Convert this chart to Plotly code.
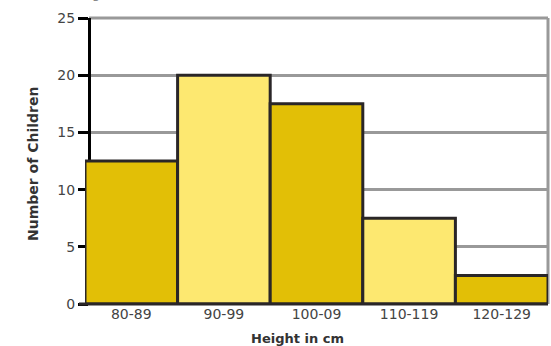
import plotly.graph_objects as go

categories = ["80-89", "90-99", "100-09", "110-119", "120-129"]
counts = [12.5, 20, 17.5, 7.5, 2.5]
bar_colors = ["#E2BF06", "#FDE870", "#E2BF06", "#FDE870", "#E2BF06"]
y_ticks = [0, 5, 10, 15, 20, 25]

fig = go.Figure()
fig.add_trace(go.Bar(
    x=list(range(len(categories))),
    y=counts,
    width=1.0,
    marker=dict(color=bar_colors, line=dict(color="#2A2627", width=3)),
    hoverinfo="skip",
))

W, H = 551, 346
ml, mr, mt, mb = 85, 3, 18, 42
plot_w = W - ml - mr
axis_pos = 4 / plot_w

fig.update_layout(
    width=W, height=H,
    margin=dict(l=ml, r=mr, t=mt, b=mb, autoexpand=False),
    paper_bgcolor="white", plot_bgcolor="white",
    showlegend=False,
    bargap=0,
    font=dict(family="DejaVu Sans", color="#333333"),
    xaxis=dict(
        range=[-0.5, 4.5],
        tickmode="array",
        tickvals=list(range(len(categories))),
        ticktext=categories,
        ticks="",
        showgrid=False,
        zeroline=False,
        showline=False,
        tickfont=dict(size=14, family="DejaVu Sans", color="#444444"),
        domain=[0, 1],
        automargin=False,
    ),
    yaxis=dict(
        range=[0, 25],
        tickvals=y_ticks,
        ticks="outside",
        ticklen=10,
        tickwidth=3,
        tickcolor="black",
        showline=True,
        linecolor="black",
        linewidth=3,
        showgrid=True,
        gridcolor="#999999",
        gridwidth=3,
        zeroline=False,
        anchor="free",
        position=axis_pos,
        tickfont=dict(size=14, family="DejaVu Sans", color="#444444"),
        layer="below traces",
        automargin=False,
    ),
)

# right border and top gridline
fig.add_shape(type="line", xref="paper", yref="paper", x0=1, x1=1, y0=0, y1=1,
              line=dict(color="#999999", width=3), layer="below")
fig.add_shape(type="line", xref="paper", yref="paper", x0=axis_pos, x1=1, y0=1, y1=1,
              line=dict(color="#999999", width=3), layer="below")
# bottom axis line
fig.add_shape(type="line", xref="paper", yref="paper", x0=axis_pos - 10 / plot_w, x1=1, y0=0, y1=0,
              line=dict(color="#2A2627", width=3), layer="above")

fig.add_annotation(text="<b>Height in cm</b>", xref="paper", yref="paper",
                   x=(297 - ml) / plot_w, y=0, yshift=-34, showarrow=False,
                   font=dict(size=13, family="DejaVu Sans", color="#333333"),
                   xanchor="center", yanchor="middle")
fig.add_annotation(text="<b>Number of Children</b>", xref="paper", yref="paper",
                   x=0, xshift=-(ml - 33), y=0.5, yshift=-3, textangle=-90, showarrow=False,
                   font=dict(size=14, family="DejaVu Sans", color="#333333"),
                   xanchor="center", yanchor="middle")
# partially visible heading cut by the top edge, as in the reference
fig.add_annotation(text="Children's Heights", xref="paper", yref="paper",
                   x=0, xshift=-85, y=1, yshift=mt - 3, showarrow=False,
                   font=dict(size=13, family="DejaVu Sans", color="#888888"),
                   xanchor="left", yanchor="bottom")

fig.write_html("out.html", config={"displayModeBar": False, "staticPlot": True},
               post_script="document.body.style.margin='0';document.body.style.overflow='hidden';")
